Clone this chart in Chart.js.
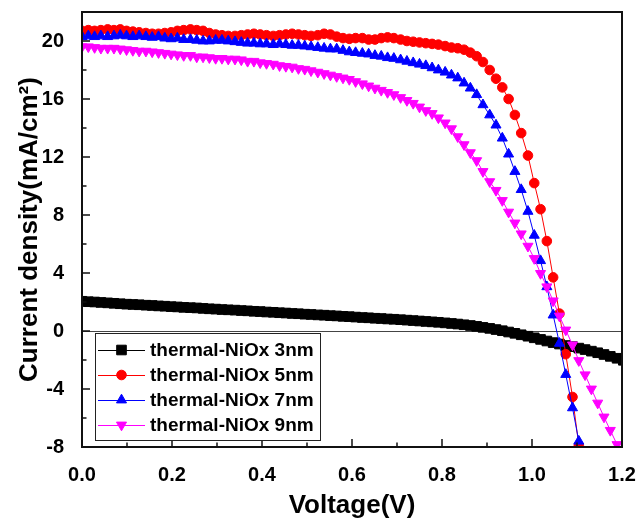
<!DOCTYPE html>
<html><head><meta charset="utf-8">
<script src="https://cdn.jsdelivr.net/npm/chart.js@4/dist/chart.umd.min.js"></script>
<style>html,body{margin:0;padding:0;background:#fff;}canvas{display:block;}</style>
</head><body>
<canvas id="c" width="640" height="521"></canvas>
<script>
const voltage = [0,0.014,0.028,0.042,0.057,0.071,0.085,0.099,0.113,0.127,0.142,0.156,0.170,0.184,0.198,0.212,0.226,0.241,0.255,0.269,0.283,0.297,0.311,0.325,0.340,0.354,0.368,0.382,0.396,0.410,0.425,0.439,0.453,0.467,0.481,0.495,0.509,0.524,0.538,0.552,0.566,0.580,0.594,0.608,0.623,0.637,0.651,0.665,0.679,0.693,0.708,0.722,0.736,0.750,0.764,0.778,0.792,0.807,0.821,0.835,0.849,0.863,0.877,0.891,0.906,0.920,0.934,0.948,0.962,0.976,0.991,1.005,1.019,1.033,1.047,1.061,1.075,1.090,1.104,1.118,1.132,1.146,1.160,1.174,1.189,1.203];
const seriesNames = ['thermal-NiOx 3nm','thermal-NiOx 5nm','thermal-NiOx 7nm','thermal-NiOx 9nm'];
const j3nm = [2.05,2.02,2.0,1.97,1.94,1.91,1.88,1.85,1.83,1.81,1.78,1.76,1.73,1.71,1.68,1.66,1.63,1.61,1.59,1.56,1.53,1.51,1.48,1.46,1.44,1.41,1.39,1.36,1.34,1.31,1.29,1.26,1.24,1.21,1.19,1.16,1.14,1.11,1.09,1.06,1.04,1.01,0.99,0.96,0.93,0.91,0.88,0.86,0.83,0.81,0.78,0.75,0.72,0.69,0.66,0.63,0.6,0.56,0.52,0.48,0.43,0.38,0.32,0.25,0.18,0.1,0.02,-0.07,-0.16,-0.26,-0.36,-0.47,-0.58,-0.69,-0.8,-0.9,-1.0,-1.08,-1.18,-1.28,-1.39,-1.5,-1.62,-1.75,-1.88,-2.02];
const j5nm = [20.7,20.75,20.7,20.75,20.8,20.75,20.8,20.7,20.65,20.6,20.55,20.5,20.5,20.55,20.6,20.7,20.75,20.8,20.75,20.7,20.55,20.45,20.4,20.35,20.35,20.4,20.45,20.5,20.45,20.4,20.35,20.4,20.45,20.5,20.45,20.4,20.35,20.4,20.5,20.45,20.3,20.2,20.15,20.2,20.2,20.1,20.1,20.2,20.25,20.2,20.1,20.0,19.95,19.9,19.85,19.8,19.75,19.65,19.55,19.5,19.4,19.2,18.95,18.55,18.0,17.4,16.8,16.0,14.9,13.65,12.1,10.2,8.4,6.2,3.7,1.2,-1.6,-4.55,-7.9];
const j7nm = [20.3,20.35,20.3,20.35,20.3,20.35,20.4,20.35,20.3,20.35,20.3,20.25,20.3,20.2,20.15,20.2,20.1,20.1,20.05,20.0,20.0,20.05,20.05,20.0,19.95,19.9,19.85,19.85,19.8,19.8,19.75,19.8,19.75,19.7,19.7,19.65,19.6,19.55,19.5,19.45,19.45,19.35,19.25,19.2,19.15,19.1,19.0,18.95,18.85,18.8,18.7,18.6,18.5,18.4,18.3,18.15,18.0,17.85,17.65,17.45,17.1,16.75,16.3,15.6,14.9,14.2,13.3,12.2,11.0,9.75,8.25,6.6,4.85,3.05,1.1,-0.85,-3.0,-5.3,-7.6];
const j9nm = [19.6,19.6,19.55,19.5,19.5,19.5,19.45,19.4,19.35,19.3,19.3,19.25,19.2,19.15,19.1,19.05,19.0,19.0,18.9,18.9,18.85,18.8,18.8,18.75,18.75,18.7,18.6,18.6,18.5,18.45,18.4,18.3,18.25,18.2,18.1,18.05,17.95,17.85,17.75,17.65,17.55,17.45,17.35,17.2,17.05,16.9,16.75,16.6,16.45,16.3,16.1,15.9,15.7,15.45,15.2,15.0,14.7,14.35,13.95,13.4,12.85,12.3,11.75,11.0,10.3,9.7,9.0,8.2,7.45,6.7,5.85,5.0,3.97,3.05,2.08,1.03,0.07,-0.96,-2.04,-3.02,-4.0,-4.97,-5.93,-6.85,-7.83];
const xTickValues = [0,0.2,0.4,0.6,0.8,1.0,1.2];
const xMinorValues = [0.1,0.3,0.5,0.7,0.9,1.1];
const yTickValues = [-8,-4,0,4,8,12,16,20];
const yMinorValues = [-6,-2,2,6,10,14,18];

const FONT = '"Liberation Sans", Arial, sans-serif';
const toPts = ys => ys.map((y, i) => ({x: voltage[i], y: y}));

const styles = [
  {color:'#000000', pointStyle:'rect', radius:6.8, rotation:0, order:4},
  {color:'#ff0000', pointStyle:'circle', radius:4.8, rotation:0, order:3},
  {color:'#0000ff', pointStyle:'triangle', radius:5.8, rotation:0, order:2},
  {color:'#ff00ff', pointStyle:'triangle', radius:5.8, rotation:180, order:1}
];
const series = [j3nm, j5nm, j7nm, j9nm];

const datasets = series.map((s, k) => ({
  label: seriesNames[k],
  data: toPts(s),
  borderColor: styles[k].color,
  backgroundColor: styles[k].color,
  borderWidth: 1,
  pointStyle: styles[k].pointStyle,
  pointRadius: styles[k].radius,
  pointRotation: styles[k].rotation,
  pointBorderWidth: 1,
  pointBackgroundColor: styles[k].color,
  pointBorderColor: styles[k].color,
  tension: 0,
  order: styles[k].order,
  clip: 0
}));

const decor = {
  id: 'decor',
  beforeDatasetsDraw(chart) {
    const {ctx, chartArea: a, scales: {y}} = chart;
    ctx.save();
    ctx.strokeStyle = '#444';
    ctx.lineWidth = 1;
    const yy = Math.round(y.getPixelForValue(0)) + 0.5;
    ctx.beginPath(); ctx.moveTo(a.left, yy); ctx.lineTo(a.right, yy); ctx.stroke();
    ctx.restore();
  },
  afterDatasetsDraw(chart) {
    const {ctx, chartArea: a, scales: {x, y}} = chart;
    ctx.save();
    ctx.strokeStyle = '#111';
    ctx.lineWidth = 2;
    ctx.strokeRect(a.left, a.top, a.right - a.left, a.bottom - a.top);
    ctx.lineWidth = 1.5;
    ctx.beginPath();
    xTickValues.forEach(v => { const px = x.getPixelForValue(v); ctx.moveTo(px, a.bottom); ctx.lineTo(px, a.bottom - 8); });
    xMinorValues.forEach(v => { const px = x.getPixelForValue(v); ctx.moveTo(px, a.bottom); ctx.lineTo(px, a.bottom - 4.5); });
    yTickValues.forEach(v => { const py = y.getPixelForValue(v); ctx.moveTo(a.left, py); ctx.lineTo(a.left + 8, py); });
    yMinorValues.forEach(v => { const py = y.getPixelForValue(v); ctx.moveTo(a.left, py); ctx.lineTo(a.left + 4.5, py); });
    ctx.stroke();
    const bx = 95.5, by = 333.5, bw = 225, bh = 107;
    ctx.fillStyle = '#fff';
    ctx.fillRect(bx, by, bw, bh);
    ctx.strokeStyle = '#222';
    ctx.lineWidth = 1;
    ctx.strokeRect(bx, by, bw, bh);
    const rows = [350, 375, 400, 425];
    ctx.font = 'bold 19px ' + FONT;
    ctx.textBaseline = 'middle';
    ctx.textAlign = 'left';
    seriesNames.forEach((name, k) => {
      const st = styles[k];
      const ry = rows[k];
      ctx.strokeStyle = st.color;
      ctx.fillStyle = st.color;
      ctx.lineWidth = 1;
      ctx.beginPath(); ctx.moveTo(98, ry + 0.5); ctx.lineTo(145, ry + 0.5); ctx.stroke();
      Chart.helpers.drawPoint(ctx, {pointStyle: st.pointStyle, radius: st.radius, rotation: st.rotation, borderWidth: 1}, 121.5, ry);
      ctx.fillStyle = '#000';
      ctx.fillText(name, 150, ry + 1);
    });
    ctx.restore();
  }
};

new Chart(document.getElementById('c'), {
  type: 'line',
  data: {datasets},
  plugins: [decor],
  options: {
    responsive: false,
    animation: false,
    events: [],
    layout: {padding: {top: 12, right: 18, left: 0, bottom: 0}},
    plugins: {legend: {display: false}, tooltip: {enabled: false}},
    scales: {
      x: {
        type: 'linear', min: 0, max: 1.2,
        afterBuildTicks: s => { s.ticks = xTickValues.map(v => ({value: v})); },
        afterFit: s => { s.height = 74; s.paddingLeft = 0; s.paddingRight = 0; },
        grid: {display: false},
        border: {display: false},
        ticks: {color: '#000', padding: 8, maxRotation: 0, autoSkip: false,
          font: {family: FONT, size: 20, weight: 'bold'},
          callback: v => Number(v).toFixed(1)},
        title: {display: true, text: 'Voltage(V)', color: '#000', padding: 0,
          font: {family: FONT, size: 26, weight: 'bold'}}
      },
      y: {
        type: 'linear', min: -8, max: 22,
        afterBuildTicks: s => { s.ticks = yTickValues.map(v => ({value: v})); },
        afterFit: s => { s.width = 82; s.paddingTop = 0; s.paddingBottom = 0; },
        grid: {display: false},
        border: {display: false},
        ticks: {color: '#000', padding: 10, autoSkip: false,
          font: {family: FONT, size: 20, weight: 'bold'},
          callback: v => String(v)},
        title: {display: true, text: 'Current density(mA/cm\u00B2)', color: '#000', padding: {top: 14, bottom: 0},
          font: {family: FONT, size: 26, weight: 'bold'}}
      }
    }
  }
});
</script>
</body></html>
